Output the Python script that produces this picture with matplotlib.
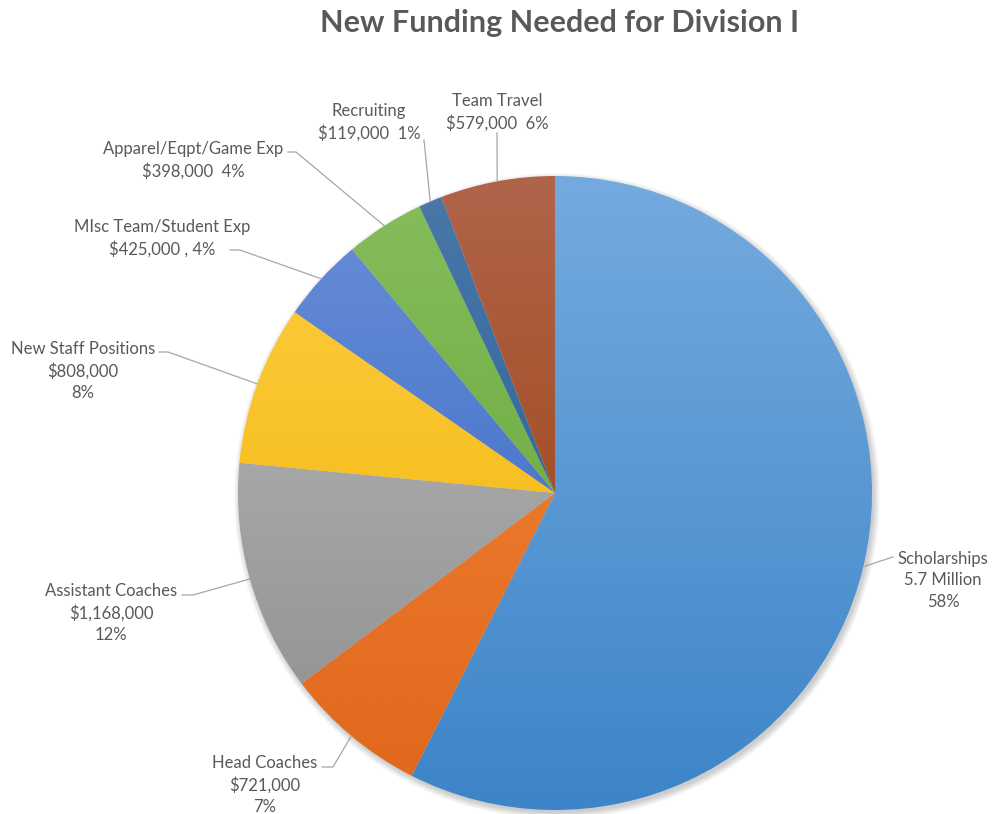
import numpy as np
import matplotlib.pyplot as plt
from matplotlib.patches import Circle

plt.rcParams['font.family'] = ['Lato', 'DejaVu Sans']

# data, clockwise from 12 o'clock
categories = ["Scholarships", "Head Coaches", "Assistant Coaches", "New Staff Positions",
              "MIsc Team/Student Exp", "Apparel/Eqpt/Game Exp", "Recruiting", "Team Travel"]
amounts = [5700000, 721000, 1168000, 808000, 425000, 398000, 119000, 579000]
amount_text = ["5.7 Million", "$721,000", "$1,168,000", "$808,000",
               "$425,000 , 4%", "$398,000  4%", "$119,000  1%", "$579,000  6%"]
pct_text = ["58%", "7%", "12%", "8%", "", "", "", ""]

# gradient colours (top of pie -> bottom of pie)
light = ["#74aadf", "#f48a3c", "#bdbdbd", "#ffcd45", "#6a8fd8", "#86bd5c", "#4a78a8", "#b0644a"]
dark = ["#3d85c8", "#e0661a", "#8c8c8c", "#eeb400", "#2f62c0", "#5ea332", "#1f5a96", "#9a3c06"]

W, H = 993, 814
cx, cy, R = 555, H - 493, 317

# label layout in pixels from top: text centre x, first line y, leader bend points
layout = [
    (943, 558, [(893, 557)]),
    (265, 762, [(333, 767), (322, 767)]),
    (111, 590, [(193, 595), (182, 595)]),
    (83, 348, [(168, 352), (159, 352)]),
    (162, 226, [(240, 250), (230, 250)]),
    (193, 148, [(296, 152), (288, 152)]),
    (369, 110, [(424, 140)]),
    (497, 100, [(497, 133)]),
]

fig = plt.figure(figsize=(W / 100, H / 100), dpi=100)
ax = fig.add_axes([0, 0, 1, 1])

# soft shadow
for k in range(10):
    ax.add_patch(Circle((cx + 2, cy - 3), R + 6 - k * 0.7, color="black", alpha=0.018, lw=0, zorder=0))

wedges, _ = ax.pie(amounts, startangle=90, counterclock=False, radius=R, center=(cx, cy),
                   wedgeprops=dict(facecolor="none", edgecolor="none"))

t = np.linspace(0, 1, 256)
for w, c1, c2 in zip(wedges, light, dark):
    a = np.array(plt.matplotlib.colors.to_rgb(c1))
    b = np.array(plt.matplotlib.colors.to_rgb(c2))
    grad = (a[None, :] * (1 - t[:, None]) + b[None, :] * t[:, None])[:, None, :]
    im = ax.imshow(grad, extent=(cx - R, cx + R, cy - R, cy + R), origin="upper",
                   aspect="auto", zorder=1, interpolation="bilinear")
    im.set_clip_path(w)

lc = "#a6a6a6"
tc = "#595959"
for w, name, amt, pct, (tx, ty, bends) in zip(wedges, categories, amount_text, pct_text, layout):
    mid = np.deg2rad((w.theta1 + w.theta2) / 2)
    px, py = cx + R * np.cos(mid), cy + R * np.sin(mid)
    xs = [px] + [b[0] for b in bends]
    ys = [py] + [H - b[1] for b in bends]
    ax.plot(xs, ys, color=lc, lw=0.9, zorder=2)
    txt = name + "\n" + amt + ("\n" + pct if pct else "")
    ax.text(tx, H - ty + 7, txt, ha="center", va="top", fontsize=12, color=tc,
            linespacing=1.42, zorder=3)

ax.text(560, H - 23, "New Funding Needed for Division I", ha="center", va="center",
        fontsize=22, fontweight="bold", color=tc)

ax.set_xlim(0, W)
ax.set_ylim(0, H)
ax.axis("off")
fig.savefig("out.png", dpi=100, facecolor="white")
